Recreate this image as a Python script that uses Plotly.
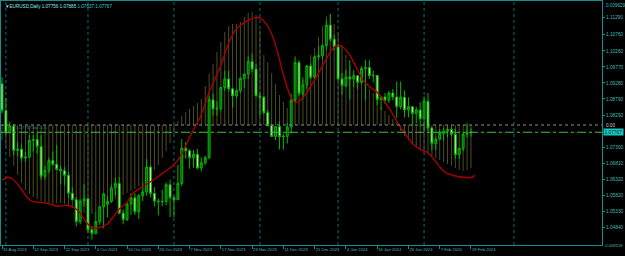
import plotly.graph_objects as go

# ---------------- data ----------------
bar_idx = list(range(121))
opens = [1.0925,1.0843,1.0775,1.0796,1.0721,1.0725,1.0698,1.0700,1.0752,1.0754,
         1.0733,1.0642,1.0660,1.0690,1.0679,1.0663,1.0659,1.0645,1.0590,1.0570,
         1.0503,1.0566,1.0573,1.0478,1.0467,1.0503,1.0548,1.0556,1.0565,1.0606,
         1.0620,1.0529,1.0509,1.0557,1.0576,1.0533,1.0582,1.0594,1.0670,1.0589,
         1.0566,1.0564,1.0565,1.0616,1.0576,1.0570,1.0620,1.0728,1.0720,1.0699,
         1.0709,1.0667,1.0683,1.0699,1.0876,1.0848,1.0850,1.0914,1.0940,1.0910,
         1.0888,1.0904,1.0941,1.0955,1.0993,1.0970,1.0888,1.0884,1.0837,1.0797,
         1.0764,1.0794,1.0763,1.0764,1.0793,1.0875,1.0990,1.0895,1.0922,1.0980,
         1.0945,1.1008,1.1011,1.1042,1.1105,1.1062,1.1038,1.0940,1.0920,1.0946,
         1.0940,1.0950,1.0930,1.0972,1.0975,1.0950,1.0951,1.0877,1.0885,1.0875,
         1.0897,1.0885,1.0855,1.0884,1.0845,1.0855,1.0834,1.0845,1.0818,1.0872,
         1.0790,1.0742,1.0755,1.0773,1.0780,1.0785,1.0771,1.0708,1.0727,1.0771,
         1.07756]
highs = [1.0945,1.0882,1.0809,1.0802,1.0748,1.0739,1.0716,1.0768,1.0768,1.0775,
         1.0768,1.0673,1.0699,1.0718,1.0737,1.0674,1.0671,1.0655,1.0608,1.0578,
         1.0572,1.0617,1.0577,1.0490,1.0532,1.0551,1.0590,1.0583,1.0616,1.0637,
         1.0640,1.0540,1.0560,1.0590,1.0590,1.0588,1.0623,1.0695,1.0675,1.0608,
         1.0574,1.0601,1.0623,1.0631,1.0582,1.0677,1.0756,1.0746,1.0725,1.0722,
         1.0726,1.0700,1.0705,1.0887,1.0895,1.0872,1.0916,1.0965,1.0965,1.0912,
         1.0910,1.0946,1.0956,1.1009,1.1017,1.0986,1.0899,1.0888,1.0845,1.0803,
         1.0796,1.0810,1.0772,1.0805,1.0895,1.1009,1.0998,1.0945,1.0983,1.0988,
         1.1012,1.1040,1.1046,1.1120,1.1139,1.1076,1.1046,1.0958,1.0968,1.0998,
         1.0967,1.0952,1.0979,1.0999,1.0998,1.0966,1.0952,1.0889,1.0897,1.0904,
         1.0909,1.0932,1.0932,1.0905,1.0884,1.0857,1.0855,1.0869,1.0887,1.0897,
         1.0792,1.0763,1.0786,1.0789,1.0795,1.0794,1.0788,1.0730,1.0775,1.0805,
         1.07885]
lows = [1.0834,1.0771,1.0774,1.0706,1.0703,1.0686,1.0686,1.0700,1.0718,1.0712,
        1.0632,1.0631,1.0651,1.0675,1.0661,1.0617,1.0615,1.0576,1.0570,1.0488,
        1.0495,1.0549,1.0468,1.0448,1.0463,1.0493,1.0482,1.0516,1.0560,1.0583,
        1.0525,1.0495,1.0505,1.0524,1.0523,1.0511,1.0566,1.0582,1.0577,1.0549,
        1.0522,1.0550,1.0553,1.0517,1.0516,1.0570,1.0612,1.0696,1.0665,1.0668,
        1.0663,1.0656,1.0677,1.0694,1.0828,1.0828,1.0841,1.0904,1.0902,1.0852,
        1.0880,1.0897,1.0912,1.0940,1.0960,1.0887,1.0828,1.0832,1.0794,1.0764,
        1.0753,1.0724,1.0723,1.0742,1.0773,1.0869,1.0888,1.0880,1.0910,1.0940,
        1.0940,1.0999,1.1000,1.1030,1.1055,1.1028,1.0937,1.0892,1.0915,1.0877,
        1.0915,1.0909,1.0925,1.0876,1.0940,1.0930,1.0860,1.0845,1.0863,1.0866,
        1.0875,1.0821,1.0847,1.0822,1.0822,1.0796,1.0804,1.0795,1.0779,1.0780,
        1.0722,1.0723,1.0753,1.0752,1.0762,1.0764,1.0696,1.0695,1.0719,1.0761,
        1.07637]
closes = [1.0843,1.0775,1.0796,1.0721,1.0725,1.0698,1.0700,1.0752,1.0754,1.0733,
          1.0642,1.0660,1.0690,1.0679,1.0663,1.0659,1.0645,1.0590,1.0570,1.0503,
          1.0566,1.0573,1.0478,1.0467,1.0503,1.0548,1.0588,1.0565,1.0606,1.0620,
          1.0529,1.0509,1.0557,1.0576,1.0533,1.0582,1.0594,1.0670,1.0589,1.0566,
          1.0564,1.0565,1.0616,1.0576,1.0570,1.0620,1.0728,1.0720,1.0699,1.0709,
          1.0667,1.0683,1.0699,1.0876,1.0848,1.0850,1.0914,1.0940,1.0910,1.0888,
          1.0904,1.0941,1.0955,1.0993,1.0970,1.0888,1.0884,1.0837,1.0797,1.0764,
          1.0794,1.0763,1.0764,1.0793,1.0875,1.0990,1.0895,1.0922,1.0980,1.0945,
          1.1008,1.1011,1.1042,1.1105,1.1062,1.1038,1.0940,1.0920,1.0946,1.0940,
          1.0950,1.0930,1.0972,1.0975,1.0950,1.0951,1.0877,1.0885,1.0875,1.0897,
          1.0885,1.0855,1.0884,1.0845,1.0855,1.0834,1.0845,1.0818,1.0872,1.0790,
          1.0742,1.0755,1.0773,1.0780,1.0785,1.0771,1.0708,1.0727,1.0771,1.0776,
          1.07767]

# oscillator histogram (indicator units)
osc = [-0.00116,-0.00179,-0.00248,-0.00318,-0.00388,-0.00450,-0.00505,-0.00536,-0.00559,-0.00575,
       -0.00590,-0.00606,-0.00613,-0.00613,-0.00606,-0.00606,-0.00613,-0.00629,-0.00644,-0.00660,
       -0.00676,-0.00683,-0.00691,-0.00691,-0.00676,-0.00660,-0.00637,-0.00613,-0.00590,-0.00575,
       -0.00559,-0.00544,-0.00528,-0.00512,-0.00497,-0.00474,-0.00450,-0.00419,-0.00388,-0.00349,
       -0.00311,-0.00256,-0.00202,-0.00140,-0.00070,0.00031,0.00070,0.00101,0.00124,0.00148,
       0.00171,0.00202,0.00303,0.00396,0.00474,0.00567,0.00644,0.00722,0.00769,0.00784,
       0.00784,0.00800,0.00839,0.00870,0.00877,0.00854,0.00738,0.00544,0.00489,0.00404,
       0.00318,0.00233,0.00179,0.00132,0.00148,0.00194,0.00256,0.00349,0.00466,0.00544,
       0.00598,0.00683,0.00769,0.00846,0.00862,0.00784,0.00714,0.00613,0.00544,0.00458,
       0.00404,0.00380,0.00326,0.00295,0.00280,0.00248,0.00210,0.00140,0.00109,0.00078,
       0.00047,0.00016,-0.00047,-0.00085,-0.00116,-0.00148,-0.00171,-0.00194,-0.00210,-0.00225,
       -0.00241,-0.00256,-0.00272,-0.00287,-0.00303,-0.00318,-0.00334,-0.00349,-0.00357,-0.00349,
       -0.00334]

# red smoothed line (read at bar positions)
red_x = [0,1.5,2.8,4.6,6.4,7.7,9.7,11.5,13.1,14.3,16.6,18.7,20,21.2,22.5,23.8,25.1,26.9,28.4,30.2,
         32,33.5,36.1,38.6,40.4,42.2,43.8,45.5,47.3,48.9,50.7,53.2,55.8,58.3,60.1,61.7,64.2,65.5,66.8,68.6,
         70.4,71.9,73.7,75,76.3,78,79.6,81.4,83.2,84.7,86,87.3,89,90.8,92.4,94.2,96,98,100,101.8,
         103.6,105.2,107,108.8,110.3,112.1,113.4,114.6,116.4,118,120.3,121]
red_y = [1.06296,1.06388,1.06326,1.06081,1.05775,1.05652,1.05622,1.05591,1.05530,1.05499,1.05530,1.05438,
         1.05285,1.05070,1.04886,1.04825,1.04856,1.04948,1.05162,1.05438,1.05622,1.05897,1.06112,1.06296,
         1.06449,1.06602,1.06755,1.07000,1.07429,1.07828,1.08226,1.09053,1.09758,1.10585,1.10953,1.11106,
         1.11259,1.11290,1.11198,1.10892,1.10279,1.09574,1.08900,1.08686,1.08747,1.08992,1.09298,1.09666,
         1.10064,1.10340,1.10432,1.10371,1.10126,1.09727,1.09360,1.09145,1.08992,1.08686,1.08318,1.07950,
         1.07644,1.07399,1.07246,1.07154,1.06970,1.06694,1.06541,1.06480,1.06418,1.06388,1.06388,1.06449]

tick_bars = list(range(0, 121, 8))
tick_labels = ["31 Aug 2023","12 Sep 2023","22 Sep 2023","4 Oct 2023","16 Oct 2023","26 Oct 2023",
               "7 Nov 2023","17 Nov 2023","29 Nov 2023","11 Dec 2023","21 Dec 2023","4 Jan 2024",
               "16 Jan 2024","26 Jan 2024","7 Feb 2024","19 Feb 2024"]
price_ticks = [1.11290,1.10760,1.10260,1.09770,1.09280,1.08790,1.08290,1.07300,1.06810,
               1.06320,1.05820,1.05330,1.04840]
month_start_bars = [1, 22, 44, 66, 86, 108, 131]
last_price = 1.07767
osc_max = 0.009629
osc_min = -0.009318

# ---------------- styles ----------------
TEAL = "#138f8f"
LBL = "#45b9b9"
FONT = "Liberation Sans"

fig = go.Figure()

# histogram as thin vertical strokes from the zero level
hx, hy = [], []
for i, v in zip(bar_idx, osc):
    hx += [i, i, None]
    hy += [0, v, None]
fig.add_trace(go.Scatter(x=hx, y=hy, mode="lines", yaxis="y", hoverinfo="skip",
                         line=dict(color="#4d4d24", width=1)))

fig.add_trace(go.Candlestick(x=bar_idx, open=opens, high=highs, low=lows, close=closes, yaxis="y2",
                             increasing=dict(line=dict(color="#00b800", width=1), fillcolor="#0e5a0e"),
                             decreasing=dict(line=dict(color="#00b800", width=1), fillcolor="#e6e6ae"),
                             whiskerwidth=0))

fig.add_trace(go.Scatter(x=red_x, y=red_y, mode="lines", yaxis="y2",
                         line=dict(color="#a80000", width=1.4, shape="spline", smoothing=0.6)))

shapes = []
for m in month_start_bars:
    shapes.append(dict(type="line", xref="x", yref="paper", x0=m, x1=m, y0=0, y1=1,
                       line=dict(color="#0d6f6f", width=1, dash="dot"), layer="below"))
shapes.append(dict(type="line", xref="paper", yref="y", x0=0, x1=1, y0=0, y1=0,
                   line=dict(color="#8c8c8c", width=1, dash="dot")))
shapes.append(dict(type="line", xref="paper", yref="y2", x0=0, x1=1, y0=last_price, y1=last_price,
                   line=dict(color="#3fbf3f", width=1, dash="dashdot")))

annotations = [
    dict(xref="paper", yref="paper", x=0.004, y=0.996, xanchor="left", yanchor="top", showarrow=False,
         text="<span style='color:#8fe6e6'>▼EURUSD,Daily 1.07756 1.07885</span> "
              "<span style='color:#3ccaca'>1.07637 1.07767</span>",
         font=dict(family=FONT, size=4.6)),
    dict(xref="paper", yref="y2", x=0.022, y=last_price, xanchor="left", yanchor="bottom", showarrow=False,
         text="1.07767 bar-1.0", font=dict(family=FONT, size=4.3, color="#1f8a8a")),
    dict(xref="paper", yref="y", x=1, xshift=2, y=osc_max, xanchor="left", yanchor="top", showarrow=False,
         text="0.009629", font=dict(family=FONT, size=4.6, color=LBL)),
    dict(xref="paper", yref="y", x=1, xshift=2, y=0, xanchor="left", yanchor="middle", showarrow=False,
         text="0.00", font=dict(family=FONT, size=4.6, color="#cfcfcf")),
    dict(xref="paper", yref="y", x=1, xshift=0, y=osc_min, xanchor="left", yanchor="middle", showarrow=False,
         text="-0.009318", font=dict(family=FONT, size=4.1, color=LBL)),
    dict(xref="paper", yref="y2", x=1, xshift=1, y=last_price, xanchor="left", yanchor="middle", showarrow=False,
         text="1.07767", bgcolor="#1cc3c3", borderpad=0.5,
         font=dict(family=FONT, size=4.8, color="#002a2a")),
]

fig.update_layout(
    width=625, height=256,
    margin=dict(l=1, r=23, t=1, b=11, autoexpand=False),
    paper_bgcolor="black", plot_bgcolor="black",
    showlegend=False,
    shapes=shapes, annotations=annotations,
    xaxis=dict(range=[-0.256, 153.53], tickmode="array", tickvals=tick_bars, ticktext=tick_labels,
               ticks="outside", ticklen=3, tickcolor=TEAL, tickwidth=1, tickangle=0,
               ticklabelposition="outside right", automargin=False,
               tickfont=dict(family=FONT, size=4.2, color=LBL),
               showline=True, linecolor=TEAL, linewidth=1, mirror=True,
               showgrid=False, zeroline=False, rangeslider=dict(visible=False)),
    yaxis=dict(range=[osc_min, osc_max], visible=False, showgrid=False, zeroline=False),
    yaxis2=dict(range=[1.04313, 1.11789], overlaying="y", side="right", tickmode="array",
                tickvals=price_ticks, ticktext=[f"{v:.5f}" for v in price_ticks],
                ticks="outside", ticklen=2, tickcolor=TEAL, automargin=False,
                tickfont=dict(family=FONT, size=4.8, color=LBL),
                showline=True, linecolor=TEAL, linewidth=1, mirror=True,
                showgrid=False, zeroline=False),
)

fig.write_html("out.html")
